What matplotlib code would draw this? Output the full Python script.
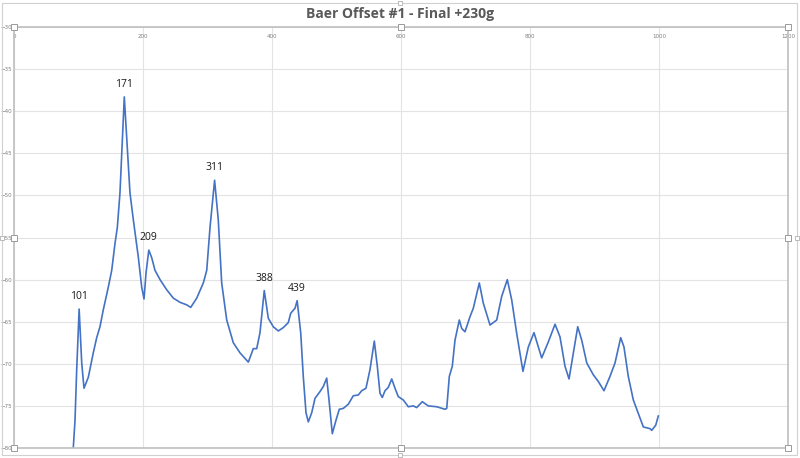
import matplotlib
matplotlib.use("Agg")
import matplotlib.pyplot as plt
from matplotlib.patches import Rectangle

title = "Baer Offset #1 - Final +230g"

freq = [91, 91.9, 94.6, 97.2, 101, 105.0, 108.5, 115.2, 122.9, 128.2, 133.3, 138.4, 146.2,
        151.5, 156.6, 160.2, 164.3, 171, 174.7, 179.8, 185.0, 192.7, 198.0, 201.6, 204.7,
        209, 213.5, 218.6, 226.4, 236.7, 247.0, 257.4, 267.8, 274.0, 283.3, 293.5, 298.8,
        303.9, 311, 316.7, 322.0, 329.8, 340.0, 350.4, 363.3, 371.0, 376.3, 381.4, 388,
        394.3, 402.0, 409.8, 417.5, 425.3, 429.0, 435.7, 439, 444.5, 448.5, 452.7, 456.3,
        461.6, 466.7, 474.4, 479.5, 484.8, 488.4, 493.5, 499.2, 504.3, 510.5, 518.3, 526.0,
        533.8, 539.1, 545.7, 551.9, 558.6, 563.3, 567.4, 571.0, 575.2, 580.3, 585.6, 590.7,
        595.8, 603.6, 611.3, 619.1, 624.3, 633.0, 642.3, 655.3, 668.2, 670.9, 674.9, 679.5,
        683.7, 690.4, 694.1, 699.2, 707.0, 712.1, 721.4, 727.6, 738.0, 748.4, 756.1, 764.8,
        771.6, 779.4, 789.1, 797.4, 806.2, 818.1, 828.4, 838.8, 846.5, 854.3, 860.5, 867.1,
        874.0, 880.2, 888.0, 898.1, 905.9, 914.7, 924.0, 931.8, 940.6, 945.7, 952.4, 960.2,
        967.9, 975.7, 986.0, 988.7, 994.9, 998.9]
level = [-81.5, -80.0, -76.7, -70.7, -63.5, -69.9, -72.9, -71.6, -68.7, -66.9, -65.6, -63.6,
         -60.9, -58.9, -55.7, -53.8, -49.7, -38.3, -43.1, -49.7, -52.9, -57.3, -60.9, -62.3,
         -59.2, -56.5, -57.4, -58.9, -60.0, -61.2, -62.2, -62.7, -63.0, -63.3, -62.2, -60.4,
         -58.9, -53.8, -48.2, -52.9, -60.4, -64.8, -67.5, -68.7, -69.8, -68.2, -68.2, -66.3,
         -61.3, -64.6, -65.6, -66.1, -65.7, -65.1, -64.0, -63.4, -62.5, -66.3, -71.5, -75.8,
         -76.9, -75.8, -74.1, -73.3, -72.7, -71.7, -74.3, -78.3, -76.7, -75.4, -75.3, -74.8,
         -73.8, -73.7, -73.2, -72.9, -70.7, -67.3, -70.3, -73.5, -74.0, -73.2, -72.8, -71.8,
         -72.9, -73.9, -74.3, -75.1, -75.0, -75.2, -74.5, -75.0, -75.1, -75.4, -75.3, -71.5,
         -70.3, -67.2, -64.8, -65.8, -66.2, -64.4, -63.4, -60.4, -62.8, -65.4, -64.8, -62.0,
         -60.0, -62.4, -66.4, -70.9, -68.0, -66.3, -69.3, -67.4, -65.3, -66.8, -70.3, -71.8,
         -68.8, -65.6, -67.2, -69.9, -71.3, -72.1, -73.2, -71.5, -69.9, -66.9, -68.0, -71.5,
         -74.3, -75.9, -77.5, -77.7, -77.9, -77.3, -76.2]

peak_freqs = [101, 171, 209, 311, 388, 439]
peak_levels = [-63.5, -38.3, -56.5, -48.2, -61.3, -62.5]
peak_labels = ["101", "171", "209", "311", "388", "439"]

x_ticks = [0, 200, 400, 600, 800, 1000, 1200]
y_ticks = [-30, -35, -40, -45, -50, -55, -60, -65, -70, -75, -80]

W, H = 800, 458
fig = plt.figure(figsize=(8, 4.58), dpi=100)
L, R, T, B = 14, 788, 27, 448
ax = fig.add_axes([L / W, 1 - B / H, (R - L) / W, (B - T) / H])

ax.plot(freq, level, color="#4472C4", lw=1.2, solid_joinstyle="round", clip_on=True)
ax.set_xlim(0, 1200)
ax.set_ylim(-80, -30)
ax.set_xticks(x_ticks)
ax.set_yticks(y_ticks)
ax.grid(True, color="#e3e3e3", lw=0.8)
ax.set_axisbelow(True)
ax.tick_params(axis="x", top=True, labeltop=True, bottom=False, labelbottom=False,
               length=0, pad=-9, labelsize=4, labelcolor="#7f7f7f")
ax.tick_params(axis="y", length=0, pad=1.5, labelsize=4, labelcolor="#7f7f7f")
for s in ax.spines.values():
    s.set_color("#bfbfbf")
    s.set_linewidth(1.2)

for f, l, t in zip(peak_freqs, peak_levels, peak_labels):
    ax.annotate(t, (f, l), xytext=(0, 5), textcoords="offset points", ha="center",
                va="bottom", fontsize=7.5, color="#1a1a1a", family="Open Sans")

fig.text(0.5, 1 - 14 / H, title, ha="center", va="center", fontsize=10,
         fontweight="bold", color="#595959", family="Open Sans")

# chart border and selection handles
fig.patches.append(Rectangle((2 / W, 3 / H), 795 / W, 452 / H, transform=fig.transFigure,
                             fill=False, ec="#d0d0d0", lw=0.8))
for px, py in [(L, T), ((L + R) / 2, T), (R, T), (L, (T + B) / 2), (R, (T + B) / 2),
               (L, B), ((L + R) / 2, B), (R, B)]:
    fig.patches.append(Rectangle(((px - 3) / W, 1 - (py + 3) / H), 6 / W, 6 / H,
                                 transform=fig.transFigure, fc="white", ec="#9a9a9a",
                                 lw=0.7, zorder=10))
for px, py in [(400, 3), (400, 455), (2, 238), (797, 238)]:
    fig.patches.append(Rectangle(((px - 2) / W, 1 - (py + 2) / H), 4 / W, 4 / H,
                                 transform=fig.transFigure, fc="white", ec="#b0b0b0",
                                 lw=0.6, zorder=10))

fig.savefig("out.png", dpi=100)
